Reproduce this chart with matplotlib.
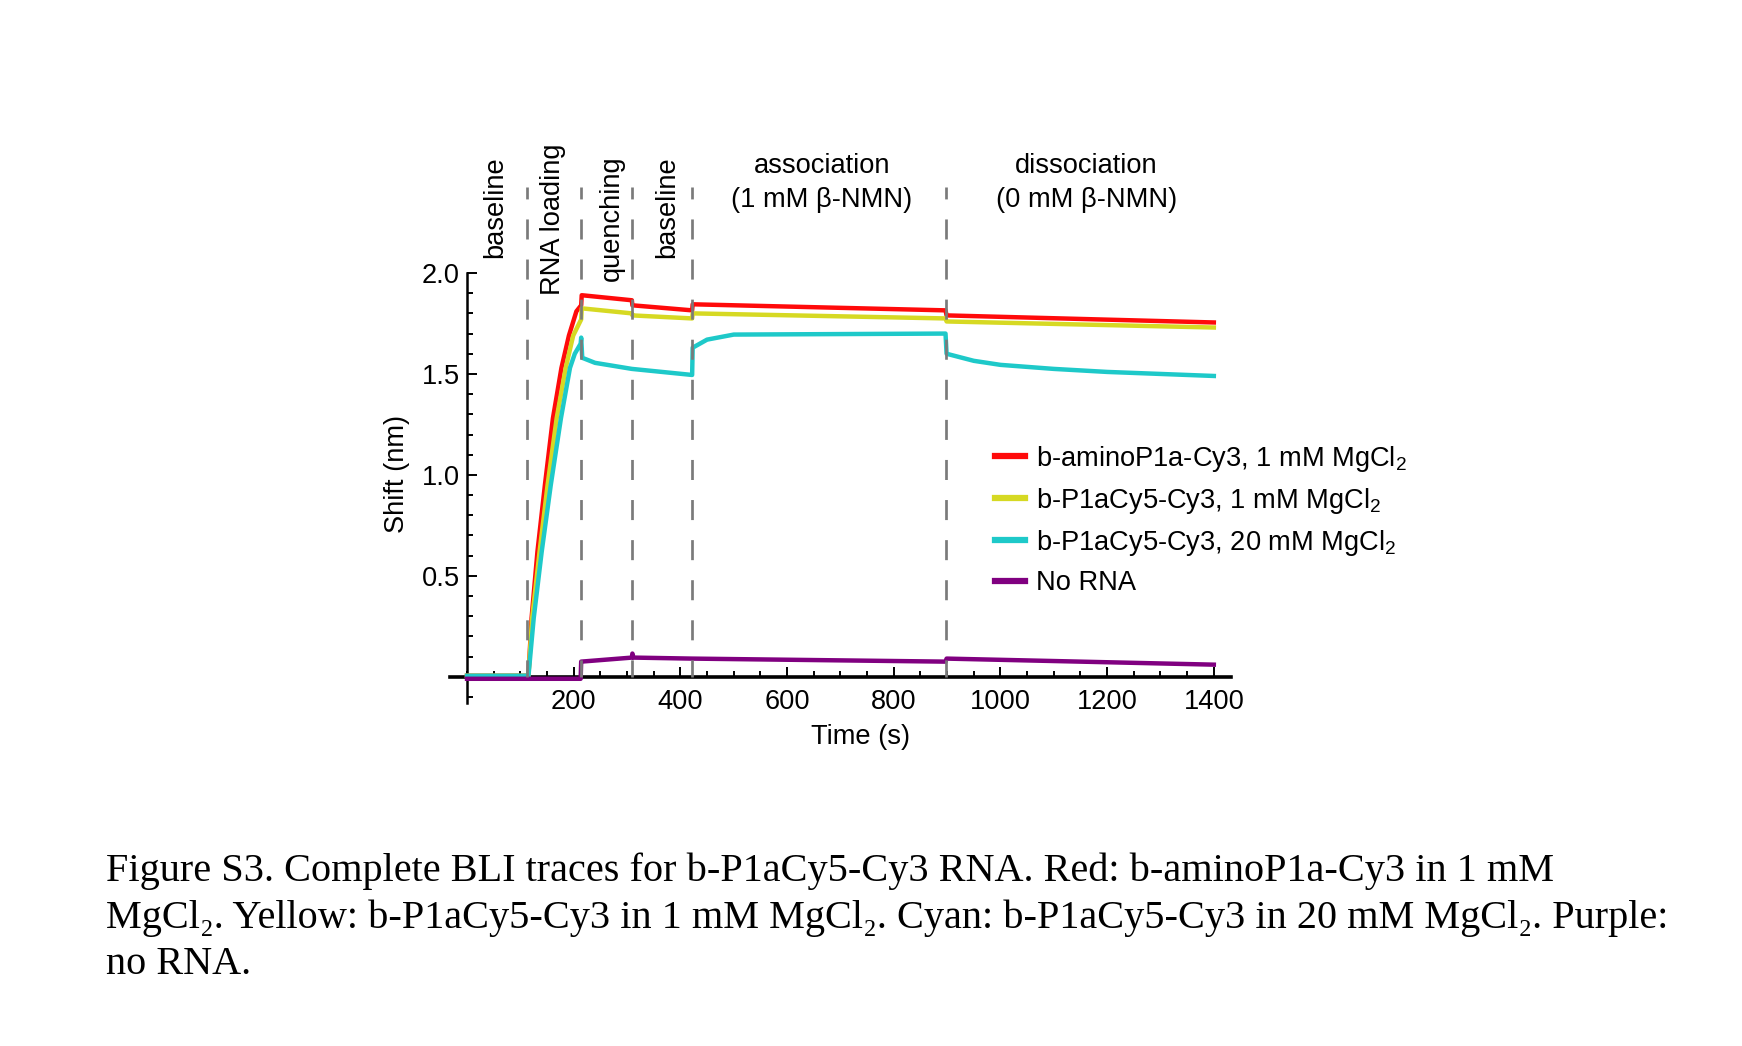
import matplotlib.pyplot as plt
from matplotlib.ticker import FixedLocator, MultipleLocator

plt.rcParams['font.family'] = ['Liberation Sans', 'DejaVu Sans']
plt.rcParams['mathtext.fontset'] = 'custom'
plt.rcParams['mathtext.rm'] = 'Liberation Sans'
plt.rcParams['mathtext.it'] = 'Liberation Sans:italic'

FS = 19.6

# BLI traces, key points (time in s, shift in nm)
red_t = [0, 113, 115, 121, 132, 146, 161, 177, 191, 205, 214, 215, 309, 310, 422, 423, 897, 899, 1400]
red_v = [0.005, 0.005, 0.0, 0.29, 0.62, 0.95, 1.28, 1.53, 1.69, 1.81, 1.84, 1.89, 1.865, 1.84, 1.815, 1.845, 1.815, 1.79, 1.755]

yellow_t = [0, 113, 115, 122, 136, 151, 168, 185, 199, 214, 215, 309, 310, 422, 423, 897, 899, 1400]
yellow_v = [0.005, 0.005, 0.0, 0.29, 0.62, 0.95, 1.28, 1.53, 1.69, 1.77, 1.825, 1.80, 1.79, 1.775, 1.80, 1.775, 1.76, 1.73]

cyan_t = [0, 113, 115, 125, 140, 157, 176, 193, 202, 213, 214, 216, 240, 309, 422, 423, 450, 500,
          897, 899, 950, 1000, 1100, 1200, 1400]
cyan_v = [0.005, 0.005, 0.0, 0.29, 0.62, 0.95, 1.28, 1.53, 1.60, 1.65, 1.68, 1.58, 1.555, 1.525, 1.495, 1.63, 1.67, 1.695,
          1.70, 1.60, 1.565, 1.545, 1.525, 1.51, 1.49]

purple_t = [0, 213, 214, 309, 310, 312, 422, 897, 899, 1400]
purple_v = [-0.01, -0.01, 0.075, 0.095, 0.115, 0.095, 0.09, 0.075, 0.09, 0.06]

# step boundaries and labels
step_x = [112, 214, 309, 422, 897]
short_steps = ["baseline", "RNA loading", "quenching", "baseline"]
short_x = [52, 161, 272, 375]
short_y = [2.327, 2.267, 2.272, 2.327]

labels = ["b-aminoP1a-Cy3, 1 mM MgCl$_2$",
          "b-P1aCy5-Cy3, 1 mM MgCl$_2$",
          "b-P1aCy5-Cy3, 20 mM MgCl$_2$",
          "No RNA"]
colors = ["#ff0a0a", "#d6d923", "#1ec9c9", "#800080"]

caption = ["Figure S3. Complete BLI traces for b-P1aCy5-Cy3 RNA. Red: b-aminoP1a-Cy3 in 1 mM",
           "MgCl\u2082. Yellow: b-P1aCy5-Cy3 in 1 mM MgCl\u2082. Cyan: b-P1aCy5-Cy3 in 20 mM MgCl\u2082. Purple:",
           "no RNA."]

fig = plt.figure(figsize=(17.42, 10.46), dpi=100)
ax = fig.add_axes([0.2583, 0.3279, 0.4483, 0.4111])

lines = []
for t, v, c in zip([red_t, yellow_t, cyan_t, purple_t], [red_v, yellow_v, cyan_v, purple_v], colors):
    ln, = ax.plot(t, v, color=c, lw=3.2, solid_joinstyle='round', zorder=3)
    lines.append(ln)

for x in step_x:
    ax.plot([x, x], [2.426, 0], color="#7a7a7a", lw=1.95, linestyle=(3, (7.4, 7.4)),
            clip_on=False, zorder=4)

for s, x, y in zip(short_steps, short_x, short_y):
    ax.text(x, y, s, rotation=90, ha='center', va='center', fontsize=FS, clip_on=False)

ax.text(665, 2.53, "association", ha='center', va='center', fontsize=FS)
ax.text(665, 2.36, "(1 mM \u03b2-NMN)", ha='center', va='center', fontsize=FS)
ax.text(1161, 2.53, "dissociation", ha='center', va='center', fontsize=FS)
ax.text(1161, 2.36, "(0 mM \u03b2-NMN)", ha='center', va='center', fontsize=FS)

ax.set_xlim(-32, 1432)
ax.set_ylim(-0.13, 2.0)
ax.spines['left'].set_position(('data', 0))
ax.spines['bottom'].set_position(('data', 0))
ax.spines['top'].set_visible(False)
ax.spines['right'].set_visible(False)
ax.spines['left'].set_linewidth(1.8)
ax.spines['bottom'].set_linewidth(2.6)

ax.xaxis.set_major_locator(FixedLocator([200, 400, 600, 800, 1000, 1200, 1400]))
ax.xaxis.set_minor_locator(MultipleLocator(50))
ax.yaxis.set_major_locator(FixedLocator([0.5, 1.0, 1.5, 2.0]))
ax.yaxis.set_minor_locator(MultipleLocator(0.1))
ax.set_yticklabels(["0.5", "1.0", "1.5", "2.0"])
ax.tick_params(which='both', direction='in', width=1.4, labelsize=FS)
ax.tick_params(which='major', length=7)
ax.tick_params(which='minor', length=4.5)
ax.tick_params(axis='x', pad=9)
ax.tick_params(axis='y', pad=5)

ax.text(-0.068, 0.533, "Shift (nm)", rotation=90, ha='center', va='center',
        fontsize=FS, transform=ax.transAxes)
ax.text(0.526, -0.079, "Time (s)", ha='center', va='center', fontsize=FS, transform=ax.transAxes)

leg = ax.legend(lines, labels, loc='upper left', bbox_to_anchor=(0.5711, 0.5760),
                bbox_transform=fig.transFigure, frameon=False, fontsize=FS,
                borderpad=0, borderaxespad=0, handlelength=1.1, handletextpad=0.42,
                labelspacing=0.45)
for l in leg.get_lines():
    l.set_linewidth(4.5)

for i, line in enumerate(caption):
    fig.text(106 / 1742, 1 - (871 + 47 * i) / 1046, line, ha='left', va='center',
             fontsize=29, family=['Liberation Serif', 'DejaVu Serif'])

fig.savefig("out.png", dpi=100)
